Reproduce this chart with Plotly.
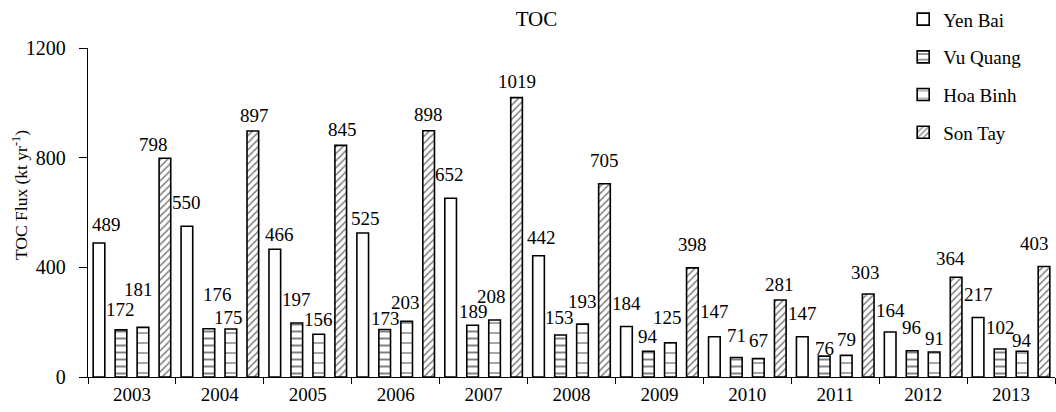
import plotly.graph_objects as go

years = ["2003", "2004", "2005", "2006", "2007", "2008", "2009", "2010", "2011", "2012", "2013"]
series_names = ["Yen Bai", "Vu Quang", "Hoa Binh", "Son Tay"]
yen_bai = [489, 550, 466, 525, 652, 442, 184, 147, 147, 164, 217]
vu_quang = [172, 176, 197, 173, 189, 153, 94, 71, 76, 96, 102]
hoa_binh = [181, 175, 156, 203, 208, 193, 125, 67, 79, 91, 94]
son_tay = [798, 897, 845, 898, 1019, 705, 398, 281, 303, 364, 403]
y_ticks = [0, 400, 800, 1200]

# label nudges (px): horizontal, vertical above bar top
lab_dx = [
    [8, 0, 4.5, 2.5, -1, 2.5, 0.5, 0, 0, 0, 0],
    [0, 9, 0, 1, 0.5, -1.5, 0, 0.5, 0, -1, 0],
    [-4, -2, 0, -1, -3, 0.5, -3, 0, 0, 0, 0],
    [-11, 2, 2, 0, 0, 0, 0, -1, -2.5, -6, -9.5],
]
lab_dy = [
    [17, 23, 14, 14, 23, 17.5, 22.5, 24.5, 22.5, 21, 22.5],
    [19, 33, 22, 10.5, 12.5, 16.5, 13.5, 21, 7, 22.5, 21],
    [37, 11, 13.5, 17.5, 22, 21.5, 24.5, 17.5, 15, 12.5, 10],
    [13, 15, 15, 15, 15, 22.5, 22, 14, 20, 18, 22],
]

W, H = 1056, 412
ML, MR, MT, MB = 88, 1, 48, 35
FONT = "Liberation Serif"

values = [yen_bai, vu_quang, hoa_binh, son_tay]
patterns = [
    dict(shape=""),
    dict(shape="-", size=7, solidity=0.28, fgcolor="black", bgcolor="white"),
    dict(shape="-", size=10, solidity=0.14, fgcolor="black", bgcolor="white"),
    dict(shape="/", size=5, solidity=0.3, fgcolor="black", bgcolor="white"),
]

fig = go.Figure()
for name, vals, pat in zip(series_names, values, patterns):
    fig.add_trace(go.Bar(
        x=years, y=vals, name=name, legendgroup=name,
        marker=dict(color="white", line=dict(color="black", width=1.6), pattern=pat),
    ))

plot_w = W - ML - MR
plot_h = H - MT - MB
slot = plot_w / len(years) / 4
annotations = []
for i, vals in enumerate(values):
    off = (i - 1.5) * slot
    for j, v in enumerate(vals):
        annotations.append(dict(
            x=j, y=v, xref="x", yref="y", text=str(v), showarrow=False,
            xanchor="center", yanchor="middle",
            xshift=off + lab_dx[i][j], yshift=lab_dy[i][j] + 1,
            font=dict(family=FONT, size=19, color="black"),
        ))

# y-axis title (placed as rotated text, slightly above plot centre like the reference)
annotations.append(dict(
    x=(20 - ML) / plot_w, y=(H - MB - 195) / plot_h, xref="paper", yref="paper",
    text="TOC Flux (kt yr<sup>-1</sup>)", textangle=-90, showarrow=False,
    xanchor="center", yanchor="middle",
    font=dict(family=FONT, size=17.5, color="black"),
))

fig.update_layout(
    width=W, height=H,
    margin=dict(l=ML, r=MR, t=MT, b=MB, autoexpand=False),
    paper_bgcolor="white", plot_bgcolor="white",
    barmode="group", bargap=0, bargroupgap=0.47,
    title=dict(text="TOC", x=0.508, xanchor="center", y=0.955, yanchor="middle",
               font=dict(family=FONT, size=21, color="black")),
    font=dict(family=FONT, color="black"),
    showlegend=True,
    legend=dict(x=0.843, xanchor="left", y=1.145, yanchor="top",
                font=dict(family=FONT, size=19, color="black"),
                traceorder="grouped", tracegroupgap=10, bgcolor="rgba(0,0,0,0)",
                itemwidth=30),
    annotations=annotations,
)
fig.update_xaxes(
    type="category", tickson="boundaries", ticks="outside", ticklen=6, tickwidth=1.3,
    tickcolor="black", showline=True, linecolor="black", linewidth=1.3,
    tickfont=dict(family=FONT, size=19, color="black"), showgrid=False,
    range=[-0.5, 10.5], automargin=False,
)
fig.update_yaxes(
    range=[0, 1200], tickvals=y_ticks, ticktext=[str(t) for t in y_ticks],
    ticks="outside", ticklen=8, tickwidth=1.3, tickcolor="black", ticklabelstandoff=9,
    showline=True, linecolor="black", linewidth=1.3, showgrid=False, zeroline=False,
    tickfont=dict(family=FONT, size=20, color="black"), automargin=False,
)

fig.write_html("out.html", config={"displayModeBar": False},
               post_script="document.body.style.margin='0';")
